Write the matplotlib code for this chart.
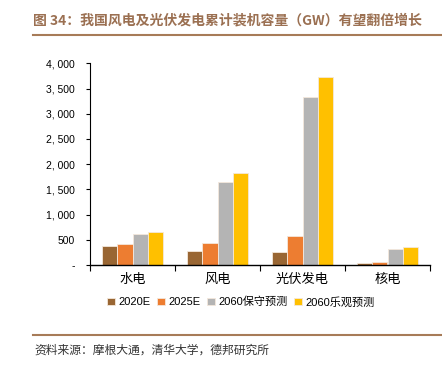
import matplotlib
matplotlib.use('Agg')
import matplotlib.pyplot as plt
import matplotlib.ticker as mticker
from matplotlib.lines import Line2D
import numpy as np

plt.rcParams['font.family'] = ['Noto Sans CJK SC', 'DejaVu Sans']

categories = ['水电', '风电', '光伏发电', '核电']
series_names = ['2020E', '2025E', '2060保守预测', '2060乐观预测']
v2020 = [370, 270, 250, 40]
v2025 = [410, 445, 570, 50]
v2060_cons = [620, 1655, 3330, 320]
v2060_opt = [645, 1825, 3730, 360]
colors = ['#996633', '#ED7D31', '#B4B4B4', '#FFC000']

fig = plt.figure(figsize=(4.42, 3.67), dpi=100)
ax = fig.add_axes([90 / 442, 1 - 265 / 367, 340 / 442, (265 - 63.3) / 367])

x = np.arange(len(categories))
w = 0.182
all_vals = [v2020, v2025, v2060_cons, v2060_opt]
for i, (vals, c, name) in enumerate(zip(all_vals, colors, series_names)):
    ax.bar(x + (i - 1.5) * w, vals, width=w, color=c, edgecolor='#F4E8DC',
           linewidth=0.6, label=name, zorder=2)

ax.set_xlim(-0.5, 3.5)
ax.set_ylim(0, 4000)
ax.set_yticks(np.arange(0, 4001, 500))


def fmt(v, pos):
    if v == 0:
        return '-'
    return '{:,}'.format(int(v)).replace(',', ', ')


ax.yaxis.set_major_formatter(mticker.FuncFormatter(fmt))
for lab in ax.get_yticklabels():
    lab.set_family(['Liberation Sans', 'DejaVu Sans'])
ax.tick_params(axis='y', labelsize=7.5, length=3, width=0.8, pad=8, colors='black')

ax.set_xticks(x)
ax.set_xticklabels(categories, fontsize=9.5, fontweight='light')
ax.tick_params(axis='x', length=0, pad=6)
ax.set_xticks(np.arange(-0.5, 4, 1), minor=True)
ax.tick_params(axis='x', which='minor', length=4, width=0.8, direction='out')

for s in ['top', 'right']:
    ax.spines[s].set_visible(False)
ax.spines['left'].set_linewidth(0.8)
ax.spines['bottom'].set_linewidth(1.0)

leg = fig.legend(loc='center', bbox_to_anchor=(0.545, 1 - 302 / 367), ncol=4,
                 frameon=False, fontsize=8, handlelength=0.7, handleheight=0.7,
                 handletextpad=0.3, columnspacing=0.6)
for t in leg.get_texts():
    t.set_family(['Liberation Sans', 'Noto Sans CJK SC'])

fig.text(33 / 442, 1 - 20 / 367, '图 34：我国风电及光伏发电累计装机容量（GW）有望翻倍增长',
         fontsize=10, fontweight='bold', color='#9B7052', va='center', ha='left')
fig.add_artist(Line2D([33 / 442, 1], [1 - 35 / 367, 1 - 35 / 367], color='#A77B58', lw=1.5))
fig.add_artist(Line2D([33 / 442, 1], [1 - 334.5 / 367, 1 - 334.5 / 367], color='#A77B58', lw=1.5))
fig.text(34 / 442, 1 - 350 / 367, '资料来源：摩根大通，清华大学，德邦研究所',
         fontsize=8.5, color='#333333', va='center', ha='left')

fig.savefig('out.png', dpi=100)
